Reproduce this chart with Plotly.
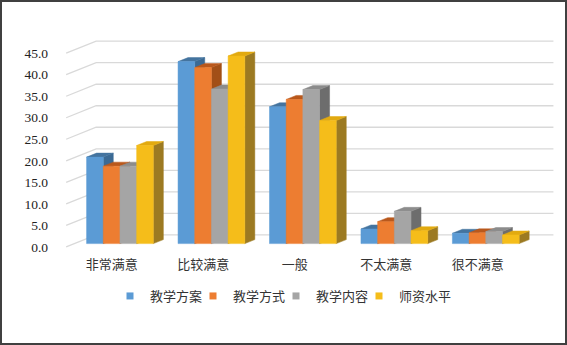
import plotly.graph_objects as go

# ---------------- data ----------------
CATEGORIES = ["非常满意", "比较满意", "一般", "不太满意", "很不满意"]
SERIES_NAMES = ["教学方案", "教学方式", "教学内容", "师资水平"]
PLAN = [20.1, 42.3, 31.8, 3.4, 2.4]        # 教学方案
METHOD = [18.0, 40.9, 33.5, 5.1, 2.5]      # 教学方式
CONTENT = [18.0, 35.9, 35.8, 7.5, 2.8]     # 教学内容
TEACHERS = [22.8, 43.6, 28.6, 3.0, 2.0]    # 师资水平
Y_TICKS = [0, 5, 10, 15, 20, 25, 30, 35, 40, 45]

# ---------------- styling / geometry ----------------
FRONT = ["#5B9BD5", "#ED7D31", "#A5A5A5", "#F5BD1A"]
TOP = ["#44749F", "#B9581C", "#8C8C8C", "#E2AA10"]
SIDE = ["#3B6A94", "#A24F17", "#6D6D6D", "#9C7A22"]
GRID = "#D9D9D9"
FONT = "Liberation Serif, Noto Sans CJK SC, serif"
NUM_FONT = "Liberation Serif"

W, H = 567, 345
L, R, T, B = 57, 7, 39, 96
PW, PH = W - L - R, H - T - B
X_RANGE = [-0.1, 5.4]
Y_RANGE = [-0.5, 48.3]
PX_U = PW / (X_RANGE[1] - X_RANGE[0])
PX_V = PH / (Y_RANGE[1] - Y_RANGE[0])
DU = 30 / PX_U          # full depth of the chart box, horizontal (axis units)
DV = 12 / PX_V          # full depth of the chart box, vertical (axis units)
GROUP = 0.73            # share of a category occupied by the bars
BW = GROUP / 4
F0 = 0.27               # depth position of bar front faces
BD = 1 / 3              # bar depth (fraction of box depth)
NCAT = len(CATEGORIES)

fig = go.Figure()

# gridlines on side wall + back wall
gx, gy = [], []
for t in Y_TICKS:
    gx += [0, DU, NCAT + DU, None]
    gy += [t, t + DV, t + DV, None]
fig.add_trace(go.Scatter(x=gx, y=gy, mode="lines", line=dict(color=GRID, width=1.3),
                         hoverinfo="skip", showlegend=False))

series_vals = [PLAN, METHOD, CONTENT, TEACHERS]

def faces(vals, s):
    sx, sy, tx, ty, fx, fy = [], [], [], [], [], []
    v0 = F0 * DV
    for i, v in enumerate(vals):
        xl = i + 0.5 - GROUP / 2 + s * BW + F0 * DU
        xr = xl + BW
        du, dv = BD * DU, BD * DV
        top = v0 + v
        sx += [xr, xr + du, xr + du, xr, xr, None]
        sy += [v0, v0 + dv, top + dv, top, v0, None]
        tx += [xl, xr, xr + du, xl + du, xl, None]
        ty += [top, top, top + dv, top + dv, top, None]
        fx += [xl, xr, xr, xl, xl, None]
        fy += [v0, v0, top, top, v0, None]
    return (sx, sy), (tx, ty), (fx, fy)

all_faces = [faces(v, s) for s, v in enumerate(series_vals)]
for kind, cols in ((0, SIDE), (1, TOP), (2, FRONT)):
    for s in range(4):
        x, y = all_faces[s][kind]
        fig.add_trace(go.Scatter(x=x, y=y, mode="lines", fill="toself",
                                 fillcolor=cols[s], line=dict(color=cols[s], width=0.5),
                                 hoverinfo="skip", showlegend=False))

# legend entries
for s, name in enumerate(SERIES_NAMES):
    fig.add_trace(go.Scatter(x=[None], y=[None], mode="markers", name=name,
                             legendwidth=(70 if s == len(SERIES_NAMES) - 1 else None),
                             marker=dict(symbol="square", size=7, color=FRONT[s])))

def paper_x(px):
    return (px - L) / PW

def paper_y(py):
    return (H - B - py) / PH

fig.update_layout(
    width=W, height=H, autosize=False,
    margin=dict(l=L, r=R, t=T, b=B, pad=0),
    paper_bgcolor="white", plot_bgcolor="white",
    font=dict(family=FONT, size=13, color="#333333"),
    showlegend=True,
    legend=dict(orientation="h", x=paper_x(110), xanchor="left",
                y=paper_y(296), yanchor="middle", entrywidth=38,
                font=dict(size=13, family=FONT, color="#333333"),
                bgcolor="rgba(0,0,0,0)"),
    xaxis=dict(range=X_RANGE, showgrid=False, zeroline=False, showline=False,
               tickmode="array", tickvals=[i + 0.5 for i in range(NCAT)],
               ticktext=CATEGORIES, ticks="", ticklabelstandoff=6, fixedrange=True),
    yaxis=dict(range=Y_RANGE, showgrid=False, zeroline=False, showline=False,
               tickmode="array", tickvals=Y_TICKS, tickformat=".1f", ticks="",
               tickfont=dict(family=NUM_FONT, size=13.5, color="#222222"),
               ticklabelstandoff=8, fixedrange=True),
    shapes=[dict(type="rect", xref="paper", yref="paper",
                 x0=paper_x(1), x1=paper_x(566), y0=paper_y(344), y1=paper_y(1),
                 line=dict(color="#404040", width=2), layer="above")],
)

fig.write_html("out.html", config={"displayModeBar": False},
               post_script="document.body.style.margin='0';")
